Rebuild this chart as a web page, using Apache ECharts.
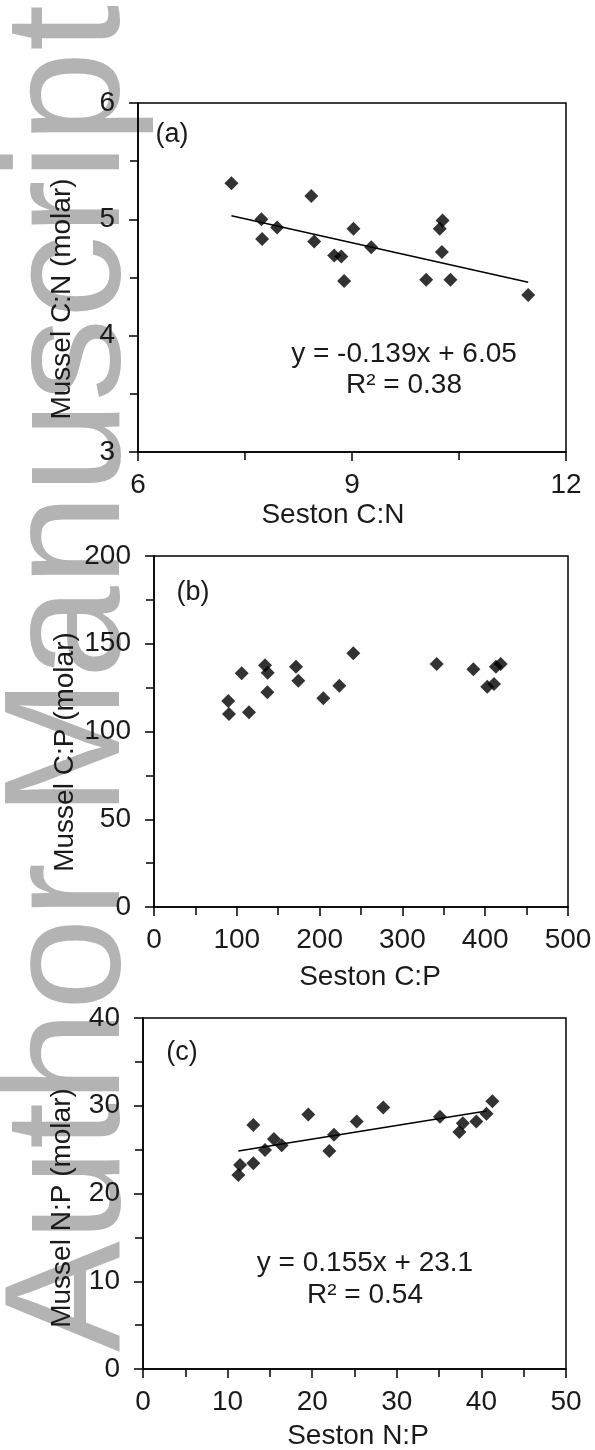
<!DOCTYPE html>
<html>
<head>
<meta charset="utf-8">
<script src="https://cdn.jsdelivr.net/npm/echarts@6/dist/echarts.min.js"></script>
<style>
  html, body { margin: 0; padding: 0; background: #fff; }
  #chart { width: 595px; height: 1450px; }
</style>
</head>
<body>
<div id="chart"></div>
<script>
// panel (a): seston C:N vs mussel C:N
var cnSeston = [7.31, 8.43, 7.73, 7.74, 7.95, 8.47, 9.02, 8.75, 8.85, 8.89, 9.27, 10.27, 10.23, 10.26, 10.04, 10.38, 11.47]
var cnMussel = [5.31, 5.20, 5.00, 4.83, 4.93, 4.81, 4.92, 4.69, 4.68, 4.47, 4.76, 4.99, 4.92, 4.72, 4.48, 4.48, 4.35]
var cnTrend = [[7.31, 5.03], [11.47, 4.46]]

// panel (b): seston C:P vs mussel C:P
var cpSeston = [89.7, 90.6, 114.7, 105.9, 134.1, 137.3, 136.9, 171.5, 174.3, 204.5, 223.8, 240.7, 341.4, 385.7, 402.5, 410.6, 413.0, 418.7]
var cpMussel = [117.4, 110.0, 110.9, 133.2, 137.7, 133.5, 122.3, 136.9, 128.9, 118.9, 126.1, 144.6, 138.5, 135.4, 125.5, 127.1, 136.9, 138.5]

// panel (c): seston N:P vs mussel N:P
var npSeston = [11.27, 11.47, 13.04, 13.04, 14.42, 15.48, 16.39, 19.54, 22.02, 22.58, 25.26, 28.4, 35.1, 37.4, 37.8, 39.4, 40.6, 41.3]
var npMussel = [22.1, 23.25, 23.44, 27.8, 24.96, 26.2, 25.5, 29.0, 24.84, 26.7, 28.2, 29.8, 28.75, 27.0, 28.0, 28.2, 29.1, 30.5]
var npTrend = [[11.27, 24.85], [40.6, 29.39]]

var eqA = ['y = -0.139x + 6.05', 'R² = 0.38']
var eqC = ['y = 0.155x + 23.1', 'R² = 0.54']

var FONT = "'Liberation Sans', Arial, sans-serif"
var TXT = '#1a1a1a'

function pairs (xs, ys) {
  return xs.map(function (x, i) { return [x, ys[i]] })
}

function axis (idx, min, max, interval, isY) {
  return {
    type: 'value',
    gridIndex: idx,
    min: min,
    max: max,
    interval: interval,
    axisLine: { show: true, onZero: false, lineStyle: { color: '#000', width: 1.5 } },
    axisTick: { show: true, inside: false, length: 9, lineStyle: { color: '#000', width: 1.5 } },
    minorTick: { show: true, splitNumber: 2, length: 8, lineStyle: { color: '#000', width: 1.5 } },
    splitLine: { show: false },
    minorSplitLine: { show: false },
    axisLabel: {
      color: TXT,
      fontSize: 28,
      fontFamily: FONT,
      margin: isY ? 23 : 19,
      showMinLabel: true,
      showMaxLabel: true
    }
  }
}

function txt (x, y, text, size, rot) {
  return {
    type: 'text',
    x: x,
    y: y,
    rotation: rot || 0,
    z: 10,
    style: {
      text: text,
      fill: TXT,
      fontSize: size || 28,
      fontFamily: FONT,
      align: 'center',
      verticalAlign: 'middle'
    }
  }
}

var dia = { type: 'scatter', symbol: 'diamond', symbolSize: [14, 14], itemStyle: { color: '#000' }, z: 5 }
var trend = { type: 'line', symbol: 'none', lineStyle: { color: '#000', width: 1.5 }, z: 4 }

var myChart = echarts.init(document.getElementById('chart'), null, { renderer: 'canvas' })
myChart.setOption({
  backgroundColor: '#fff',
  animation: false,
  grid: [
    { left: 138, top: 103, width: 428, height: 349, show: true, borderColor: '#000', borderWidth: 1.5 },
    { left: 154, top: 556, width: 414, height: 351, show: true, borderColor: '#000', borderWidth: 1.5 },
    { left: 143, top: 1018, width: 423, height: 351, show: true, borderColor: '#000', borderWidth: 1.5 }
  ],
  xAxis: [
    axis(0, 6, 12, 3, false),
    axis(1, 0, 500, 100, false),
    axis(2, 0, 50, 10, false)
  ],
  yAxis: [
    axis(0, 3, 6, 1, true),
    axis(1, 0, 200, 50, true),
    axis(2, 0, 40, 10, true)
  ],
  series: [
    Object.assign({}, dia, { xAxisIndex: 0, yAxisIndex: 0, data: pairs(cnSeston, cnMussel) }),
    Object.assign({}, trend, { xAxisIndex: 0, yAxisIndex: 0, data: cnTrend }),
    Object.assign({}, dia, { xAxisIndex: 1, yAxisIndex: 1, data: pairs(cpSeston, cpMussel) }),
    Object.assign({}, dia, { xAxisIndex: 2, yAxisIndex: 2, data: pairs(npSeston, npMussel) }),
    Object.assign({}, trend, { xAxisIndex: 2, yAxisIndex: 2, data: npTrend })
  ],
  graphic: [
    // watermark down the left margin, behind everything
    {
      type: 'text',
      x: 73,
      y: 1352,
      rotation: Math.PI / 2,
      z: -10,
      silent: true,
      style: {
        text: 'Author Manuscript',
        fill: '#b3b3b3',
        fontSize: 166,
        fontFamily: FONT,
        align: 'left',
        verticalAlign: 'middle'
      }
    },
    txt(172, 135, '(a)', 27),
    txt(193, 593, '(b)', 27),
    txt(182, 1053, '(c)', 27),
    txt(404, 354, eqA[0]),
    txt(404, 385, eqA[1]),
    txt(365, 1263, eqC[0]),
    txt(365, 1295, eqC[1]),
    txt(62, 299, 'Mussel C:N (molar)', 28, Math.PI / 2),
    txt(65, 752, 'Mussel C:P (molar)', 28, Math.PI / 2),
    txt(62, 1208, 'Mussel N:P (molar)', 28, Math.PI / 2),
    txt(333, 515, 'Seston C:N'),
    txt(370, 977, 'Seston C:P'),
    txt(358, 1436, 'Seston N:P')
  ]
})
</script>
</body>
</html>
